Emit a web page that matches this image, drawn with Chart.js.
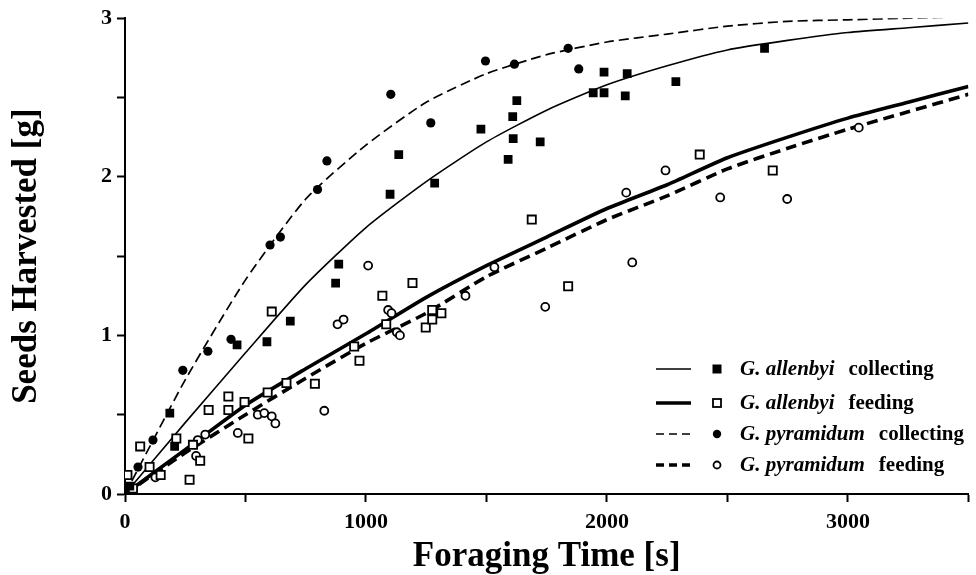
<!DOCTYPE html>
<html>
<head>
<meta charset="utf-8">
<script src="https://cdn.jsdelivr.net/npm/chart.js@4.4.1/dist/chart.umd.min.js"></script>
<style>
html,body{margin:0;padding:0;background:#fff;}
#wrap{position:relative;width:976px;height:575px;}
</style>
</head>
<body>
<div id="wrap"><canvas id="c" width="976" height="575"></canvas></div>
<script>
// ---- data ----
const lineX = [0,250,500,750,1000,1250,1500,1750,2000,2250,2500,2750,3000,3250,3500];
const allenbyiCollectLine  = [0,0.45,0.89,1.32,1.68,1.97,2.22,2.42,2.58,2.70,2.80,2.86,2.91,2.94,2.97];
const allenbyiFeedLine     = [0,0.28,0.56,0.79,1.01,1.24,1.44,1.62,1.80,1.95,2.12,2.25,2.37,2.47,2.57];
const pyramidumCollectLine = [0,0.72,1.35,1.86,2.20,2.47,2.65,2.77,2.85,2.90,2.95,2.98,2.99,3.00,3.01];
const pyramidumFeedLine    = [0,0.26,0.50,0.73,0.95,1.14,1.37,1.55,1.73,1.88,2.05,2.18,2.30,2.41,2.52];

const agcX = [20,186,206,465,589,686,874,887,1100,1136,1285,1477,1590,1611,1609,1626,1723,1943,1988,1988,2076,2084,2286,2654];
const agcY = [0.05,0.51,0.30,0.94,0.96,1.09,1.33,1.45,1.89,2.14,1.96,2.30,2.11,2.24,2.38,2.48,2.22,2.53,2.53,2.66,2.51,2.65,2.60,2.81];

const agfX = [10,33,63,102,148,213,268,282,312,347,429,429,496,512,592,609,670,788,951,973,1068,1084,1193,1248,1275,1275,1313,1688,1839,2385,2688];
const agfY = [0.12,0.035,0.30,0.17,0.12,0.35,0.09,0.31,0.21,0.53,0.615,0.53,0.58,0.35,0.64,1.15,0.70,0.695,0.93,0.84,1.25,1.07,1.33,1.05,1.10,1.16,1.14,1.73,1.31,2.14,2.04];

const pgcX = [54,116,240,344,440,602,645,799,838,1103,1269,1496,1616,1839,1883];
const pgcY = [0.17,0.34,0.78,0.90,0.975,1.57,1.62,1.92,2.10,2.52,2.34,2.73,2.71,2.81,2.68];

const pgfX = [126,295,302,333,468,551,578,609,624,827,882,907,1009,1092,1106,1128,1141,1413,1533,1744,2080,2105,2243,2470,2748,3045];
const pgfY = [0.105,0.24,0.34,0.375,0.385,0.50,0.51,0.49,0.445,0.525,1.07,1.10,1.44,1.16,1.14,1.02,1.00,1.25,1.43,1.18,1.90,1.46,2.04,1.87,1.86,2.31];

const xTicks = [0,1000,2000,3000];
const yTicks = [0,1,2,3];
const legendSpecies = ['G. allenbyi','G. allenbyi','G. pyramidum','G. pyramidum'];
const legendActivity = ['collecting','feeding','collecting','feeding'];

// ---- helpers ----
const pts = (xs, ys) => xs.map((x, i) => ({x: x, y: ys[i]}));
const SERIF = '"Liberation Serif", "Times New Roman", serif';

const lineStyles = [
  {w:1.6, dash:[]},
  {w:3.6, dash:[]},
  {w:1.7, dash:[10,5]},
  {w:3.6, dash:[11,6]}
];
const markerStyles = [
  {style:'rect', r:6.2, fill:'#000', bw:0},
  {style:'rect', r:5.8, fill:'#fff', bw:1.8},
  {style:'circle', r:4.6, fill:'#000', bw:0},
  {style:'circle', r:4.0, fill:'#fff', bw:1.8}
];

const lineSets = [allenbyiCollectLine, allenbyiFeedLine, pyramidumCollectLine, pyramidumFeedLine].map((ys, i) => ({
  type:'line', data: pts(lineX, ys), borderColor:'#000', borderWidth: lineStyles[i].w,
  borderDash: lineStyles[i].dash, pointRadius:0, fill:false, tension:0.2, order:2
}));
const scatSets = [[agcX,agcY],[agfX,agfY],[pgcX,pgcY],[pgfX,pgfY]].map((d, i) => ({
  type:'scatter', data: pts(d[0], d[1]), pointStyle: markerStyles[i].style,
  pointRadius: markerStyles[i].r, pointBackgroundColor: markerStyles[i].fill,
  pointBorderColor:'#000', pointBorderWidth: markerStyles[i].bw, showLine:false, order:1
}));

const legendPlugin = {
  id:'customLegend',
  afterDraw(chart){
    const ctx = chart.ctx;
    const rows = [369, 403, 434, 465];
    ctx.save();
    rows.forEach((y, i) => {
      const ls = lineStyles[i];
      ctx.beginPath();
      ctx.strokeStyle = '#000';
      ctx.lineWidth = ls.w;
      ctx.setLineDash(i >= 2 ? [8,5] : []);
      ctx.moveTo(656, y); ctx.lineTo(691, y);
      ctx.stroke();
      ctx.setLineDash([]);
      const m = markerStyles[i];
      ctx.fillStyle = m.fill;
      ctx.lineWidth = m.bw;
      if (m.style === 'rect') {
        const s = (i === 0) ? 4.5 : 4;
        if (m.bw) { ctx.strokeRect(717 - s, y - s, 2*s, 2*s); }
        else { ctx.fillRect(717 - s, y - s, 2*s, 2*s); }
      } else {
        ctx.beginPath();
        ctx.arc(717, y, i === 2 ? 4.2 : 3.5, 0, Math.PI*2);
        if (m.bw) { ctx.fillStyle = '#fff'; ctx.fill(); ctx.stroke(); } else { ctx.fill(); }
      }
      ctx.fillStyle = '#000';
      ctx.textBaseline = 'middle';
      ctx.textAlign = 'left';
      ctx.font = 'italic bold 21px ' + SERIF;
      ctx.fillText(legendSpecies[i], 740, y + 1);
      const w = ctx.measureText(legendSpecies[i]).width;
      ctx.font = 'bold 21px ' + SERIF;
      ctx.fillText(legendActivity[i], 740 + w + 14, y + 1);
    });
    ctx.restore();
  }
};

new Chart(document.getElementById('c'), {
  data: { datasets: [...scatSets, ...lineSets] },
  options: {
    responsive:false, animation:false, devicePixelRatio:1,
    layout:{ padding:{ left:0, top:16, right:7, bottom:0 } },
    plugins:{ legend:{display:false}, tooltip:{enabled:false} },
    scales:{
      x:{
        type:'linear', min:0, max:3500,
        afterFit(s){ s.height = 81; },
        border:{ color:'#000', width:2 },
        grid:{ drawOnChartArea:false, drawTicks:true, tickLength:8, tickColor:'#000', tickWidth:2 },
        ticks:{ stepSize:500, color:'#000', padding:7, maxRotation:0, autoSkip:false,
          font:{ family:SERIF, size:22, weight:'bold' },
          callback:(v) => xTicks.includes(v) ? String(v) : '' },
        title:{ display:true, text:'Foraging Time [s]', color:'#000',
          font:{ family:SERIF, size:35, weight:'bold' }, padding:{top:0,bottom:-3} }
      },
      y:{
        type:'linear', min:0, max:3,
        afterFit(s){ s.width = 125; },
        border:{ color:'#000', width:2 },
        grid:{ drawOnChartArea:false, drawTicks:true, tickLength:8, tickColor:'#000', tickWidth:2 },
        ticks:{ stepSize:0.5, color:'#000', padding:5,
          font:{ family:SERIF, size:22, weight:'bold' },
          callback:(v) => yTicks.includes(v) ? String(v) : '' },
        title:{ display:true, text:'Seeds Harvested [g]', color:'#000',
          font:{ family:SERIF, size:35, weight:'bold' }, padding:{top:6,bottom:0} }
      }
    }
  },
  plugins:[legendPlugin]
});
</script>
</body>
</html>
